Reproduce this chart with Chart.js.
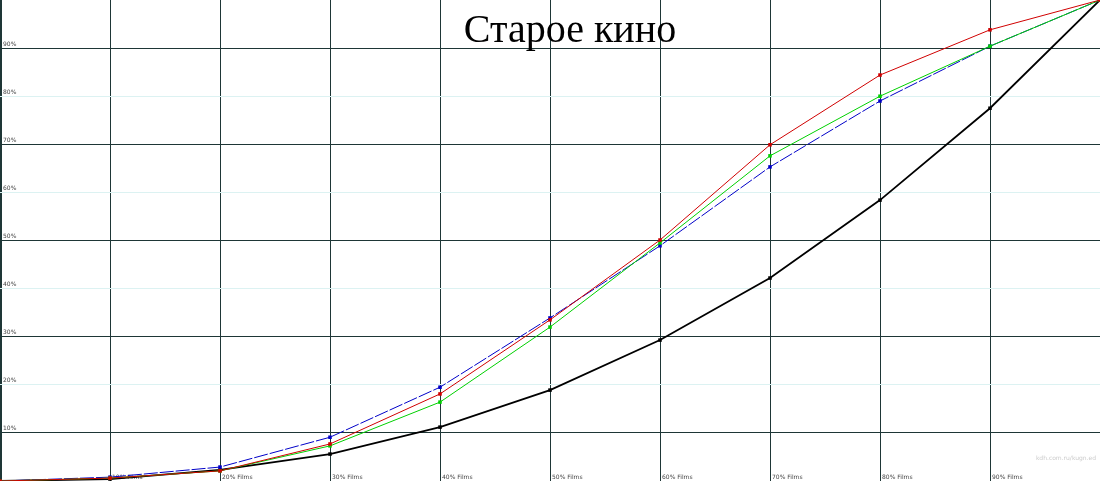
<!DOCTYPE html>
<html>
<head>
<meta charset="utf-8">
<script src="https://cdn.jsdelivr.net/npm/chart.js@4/dist/chart.umd.min.js"></script>
<style>
    body { margin: 0; background: #fff; }
    #wrap { width: 1100px; height: 481px; position: relative; }
</style>
</head>
<body>
<div id="wrap"><canvas id="chart"></canvas></div>
<script>
// Share of films (x) vs cumulative share (y)
const xShares = [0, 10, 20, 30, 40, 50, 60, 70, 80, 90, 100];
const redSeries = [0, 0.6, 2.1, 7.7, 18.1, 33.5, 50.1, 69.9, 84.4, 93.8, 100];
const greenSeries = [0, 0.6, 2.1, 7.3, 16.4, 32.0, 49.5, 67.6, 80.0, 90.4, 100];
const blueSeries = [0, 0.8, 2.9, 9.1, 19.5, 33.9, 48.9, 65.3, 79.0, 90.4, 100];
const blackSeries = [0, 0.4, 2.3, 5.6, 11.2, 18.9, 29.3, 42.2, 58.4, 77.5, 100];
const yTickLabels = ['10%', '20%', '30%', '40%', '50%', '60%', '70%', '80%', '90%'];
const xTickLabels = ['10% Films', '20% Films', '30% Films', '40% Films', '50% Films',
    '60% Films', '70% Films', '80% Films', '90% Films'];
const chartTitle = 'Старое кино';

const toPoints = arr => arr.map((v, i) => ({ x: xShares[i], y: v }));

function makeSet(data, color, width, dash) {
    return {
        data: toPoints(data),
        borderColor: color,
        backgroundColor: color,
        borderWidth: width,
        borderDash: dash || [],
        pointRadius: 2.5,
        pointStyle: 'rect',
        pointBorderWidth: 0,
        tension: 0
    };
}

// Tick labels are drawn inside the plot, like the original
const insideLabels = {
    id: 'insideLabels',
    beforeDatasetsDraw(chart) {
        const { ctx, scales: { x, y } } = chart;
        ctx.save();
        ctx.font = '6px "DejaVu Sans"';
        ctx.fillStyle = '#444';
        ctx.textBaseline = 'bottom';
        ctx.textAlign = 'left';
        yTickLabels.forEach((t, i) => {
            ctx.fillText(t, 3, y.getPixelForValue((i + 1) * 10) - 1);
        });
        xTickLabels.forEach((t, i) => {
            ctx.fillText(t, x.getPixelForValue((i + 1) * 10) + 2, 480);
        });
        ctx.fillStyle = '#ccc';
        ctx.textAlign = 'right';
        ctx.fillText('kdh.com.ru/kugn.ed', 1096, 461);
        ctx.restore();
    },
    afterDraw(chart) {
        const { ctx } = chart;
        ctx.save();
        ctx.font = '40px "Liberation Serif"';
        ctx.fillStyle = '#000';
        ctx.textAlign = 'center';
        ctx.textBaseline = 'alphabetic';
        ctx.fillText(chartTitle, 570, 42);
        ctx.restore();
    }
};

const gridColor = c => {
    const v = c.tick.value;
    if (v === 0 || v === 100) return 'rgba(0,0,0,0)';
    return (v / 10) % 2 === 1 ? '#1e3636' : '#dcf2f2';
};

new Chart(document.getElementById('chart'), {
    type: 'line',
    data: {
        datasets: [
            makeSet(redSeries, '#d00000', 1),
            makeSet(greenSeries, '#00d000', 1),
            makeSet(blueSeries, '#0000c8', 1, [14, 2]),
            makeSet(blackSeries, '#000000', 1.8)
        ]
    },
    options: {
        responsive: true,
        maintainAspectRatio: false,
        animation: false,
        layout: { padding: 0, autoPadding: false },
        plugins: {
            legend: { display: false },
            tooltip: { enabled: false },
            title: { display: false }
        },
        scales: {
            x: {
                type: 'linear',
                min: 0,
                max: 100,
                ticks: { display: false, stepSize: 10 },
                border: { display: false },
                grid: {
                    drawTicks: false,
                    lineWidth: c => c.tick.value === 0 ? 3 : 1,
                    color: c => c.tick.value === 100 ? 'rgba(0,0,0,0)' : '#1e3636'
                }
            },
            y: {
                min: 0,
                max: 100,
                ticks: { display: false, stepSize: 10 },
                border: { display: false },
                grid: { drawTicks: false, color: gridColor }
            }
        }
    },
    plugins: [insideLabels]
});
</script>
</body>
</html>
